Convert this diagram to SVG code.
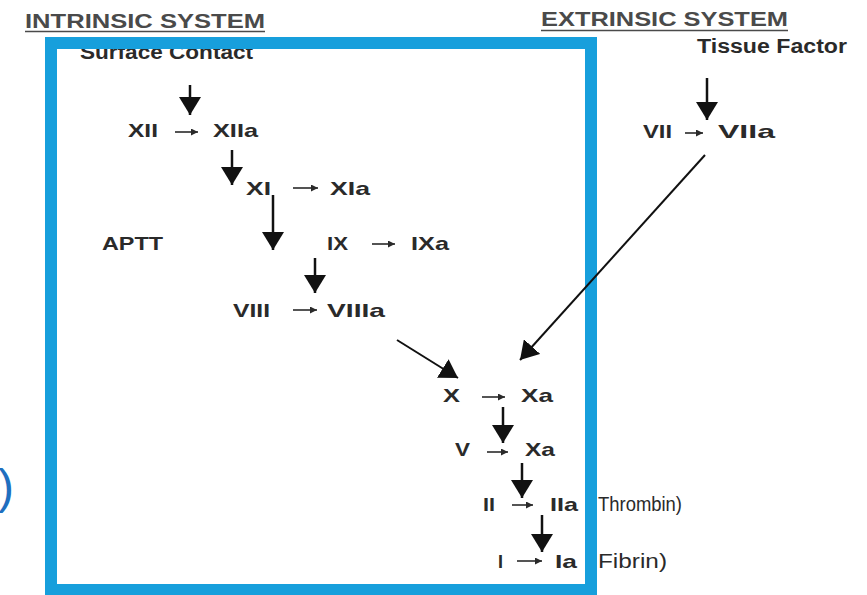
<svg xmlns="http://www.w3.org/2000/svg" width="867" height="595" viewBox="0 0 867 595">
  <style>
    .hdr { font-family: "Liberation Sans", Arial, sans-serif; font-weight: bold; font-size: 20px; fill: #4a4a4a; }
    .lbl { font-family: "Liberation Sans", Arial, sans-serif; font-weight: bold; font-size: 19px; fill: #2a2a2a; }
    .note { font-family: "Liberation Sans", Arial, sans-serif; font-size: 21px; fill: #2a2a2a; }
    .big { font-family: "Liberation Sans", Arial, sans-serif; font-weight: bold; font-size: 20px; fill: #2a2a2a; }
    .ul { stroke: #4a4a4a; stroke-width: 1.5; }
    .down { stroke: #111; stroke-width: 2.5; fill: none; marker-end: url(#bigHead); }
    .diag { stroke: #111; stroke-width: 2; fill: none; marker-end: url(#bigHead); }
    .small { stroke: #2a2a2a; stroke-width: 1.6; fill: none; marker-end: url(#smallHead); }
  </style>
  <defs>
    <marker id="bigHead" markerUnits="userSpaceOnUse" viewBox="0 0 18 22" refX="18" refY="11" markerWidth="18" markerHeight="22" orient="auto">
      <path d="M0,0 L18,11 L0,22 z" fill="#111"/>
    </marker>
    <marker id="smallHead" markerUnits="userSpaceOnUse" viewBox="0 0 7 7" refX="7" refY="3.5" markerWidth="7" markerHeight="7" orient="auto">
      <path d="M0,0 L7,3.5 L0,7 z" fill="#2a2a2a"/>
    </marker>
  </defs>
  <rect width="867" height="595" fill="#ffffff"/>

  <g id="headers">
    <text class="hdr" x="25" y="28" textLength="240" lengthAdjust="spacingAndGlyphs">INTRINSIC SYSTEM</text>
    <line class="ul" x1="25" y1="31.5" x2="265" y2="31.5"/>
    <text class="hdr" x="541" y="26" textLength="247" lengthAdjust="spacingAndGlyphs">EXTRINSIC SYSTEM</text>
    <line class="ul" x1="541" y1="30.5" x2="788" y2="30.5"/>
  </g>

  <g id="surface-contact"><text class="big" x="80" y="59" textLength="173" lengthAdjust="spacingAndGlyphs">Surface Contact</text></g>
  <g id="tissue-factor"><text class="big" x="697" y="53" textLength="150" lengthAdjust="spacingAndGlyphs">Tissue Factor</text></g>

  <g id="blue-box">
    <rect x="51" y="43" width="540" height="547" fill="none" stroke="#179fdc" stroke-width="12"/>
  </g>

  <g id="xii"><text class="lbl" x="128" y="137" textLength="30" lengthAdjust="spacingAndGlyphs">XII</text></g>
  <g id="xiia"><text class="lbl" x="213" y="137" textLength="45" lengthAdjust="spacingAndGlyphs">XIIa</text></g>
  <g id="xi"><text class="lbl" x="246" y="195" textLength="25" lengthAdjust="spacingAndGlyphs">XI</text></g>
  <g id="xia"><text class="lbl" x="330" y="195" textLength="40" lengthAdjust="spacingAndGlyphs">XIa</text></g>
  <g id="aptt"><text class="lbl" x="102" y="250" textLength="61" lengthAdjust="spacingAndGlyphs">APTT</text></g>
  <g id="ix"><text class="lbl" x="327" y="250" textLength="21" lengthAdjust="spacingAndGlyphs">IX</text></g>
  <g id="ixa"><text class="lbl" x="411" y="250" textLength="38" lengthAdjust="spacingAndGlyphs">IXa</text></g>
  <g id="viii"><text class="lbl" x="233" y="317" textLength="37" lengthAdjust="spacingAndGlyphs">VIII</text></g>
  <g id="viiia"><text class="lbl" x="327" y="317" textLength="58" lengthAdjust="spacingAndGlyphs">VIIIa</text></g>
  <g id="x"><text class="lbl" x="443" y="402" textLength="17" lengthAdjust="spacingAndGlyphs">X</text></g>
  <g id="xa1"><text class="lbl" x="521" y="402" textLength="32" lengthAdjust="spacingAndGlyphs">Xa</text></g>
  <g id="v"><text class="lbl" x="455" y="456" textLength="15" lengthAdjust="spacingAndGlyphs">V</text></g>
  <g id="xa2"><text class="lbl" x="525" y="456" textLength="30" lengthAdjust="spacingAndGlyphs">Xa</text></g>
  <g id="ii"><text class="lbl" x="483" y="511" textLength="12" lengthAdjust="spacingAndGlyphs">II</text></g>
  <g id="iia"><text class="lbl" x="550" y="511" textLength="28" lengthAdjust="spacingAndGlyphs">IIa</text></g>
  <g id="thrombin"><text class="note" x="598" y="511" textLength="84" lengthAdjust="spacingAndGlyphs">Thrombin)</text></g>
  <g id="i"><text class="lbl" x="498" y="568" textLength="5" lengthAdjust="spacingAndGlyphs">I</text></g>
  <g id="ia"><text class="lbl" x="555" y="568" textLength="22" lengthAdjust="spacingAndGlyphs">Ia</text></g>
  <g id="fibrin"><text class="note" x="598" y="568" textLength="69" lengthAdjust="spacingAndGlyphs">Fibrin)</text></g>
  <g id="vii"><text class="lbl" x="643" y="138" textLength="29" lengthAdjust="spacingAndGlyphs">VII</text></g>
  <g id="viia"><text class="lbl" x="718" y="138" textLength="57" lengthAdjust="spacingAndGlyphs">VIIa</text></g>

  <g id="edge-paren"><text x="-2" y="503" font-family="'Liberation Sans', Arial, sans-serif" font-size="48" fill="#1f6fbf">)</text></g>

  <g id="connectors">
    <line class="small" x1="175" y1="132" x2="198" y2="132"/>
    <line class="small" x1="293" y1="188" x2="318" y2="188"/>
    <line class="small" x1="372" y1="244" x2="395" y2="244"/>
    <line class="small" x1="293" y1="310" x2="317" y2="310"/>
    <line class="small" x1="482" y1="397" x2="505" y2="397"/>
    <line class="small" x1="487" y1="452" x2="508" y2="452"/>
    <line class="small" x1="512" y1="505" x2="533" y2="505"/>
    <line class="small" x1="517" y1="561" x2="542" y2="561"/>
    <line class="small" x1="685" y1="133" x2="703" y2="133"/>

    <line class="down" x1="190" y1="85" x2="190" y2="115"/>
    <line class="down" x1="232" y1="150" x2="232" y2="185"/>
    <line class="down" x1="273" y1="195" x2="273" y2="250"/>
    <line class="down" x1="315" y1="258" x2="315" y2="293"/>
    <line class="down" x1="503" y1="407" x2="503" y2="443"/>
    <line class="down" x1="522" y1="463" x2="522" y2="498"/>
    <line class="down" x1="542" y1="515" x2="542" y2="552"/>
    <line class="down" x1="707" y1="78" x2="707" y2="120"/>

    <line class="diag" x1="705" y1="155" x2="520" y2="360"/>
    <line class="diag" x1="397" y1="340" x2="458" y2="378"/>
  </g>
</svg>
